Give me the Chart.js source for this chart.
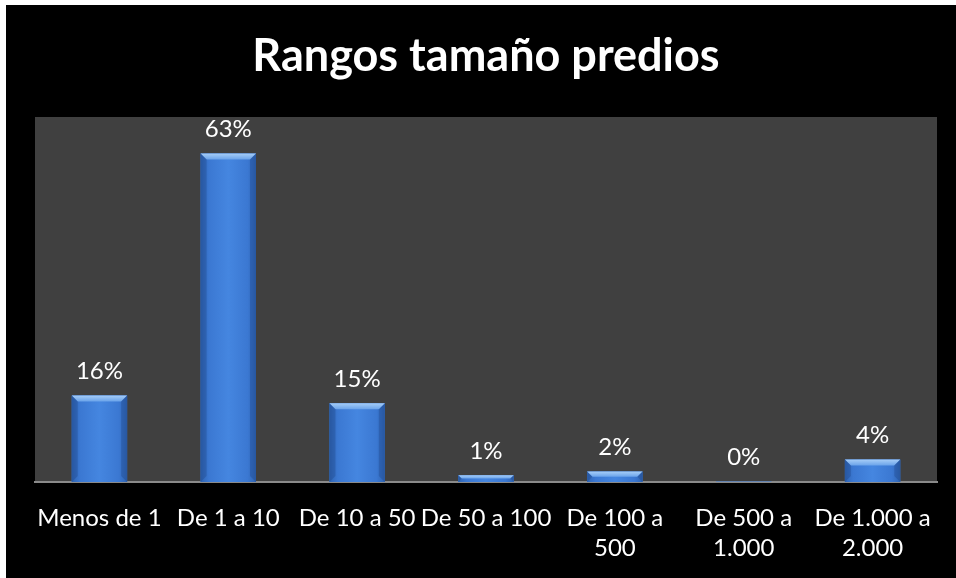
<!DOCTYPE html>
<html>
<head>
<meta charset="utf-8">
<script src="https://cdn.jsdelivr.net/npm/chart.js@4.4.1/dist/chart.umd.min.js"></script>
<style>
  html, body { margin: 0; padding: 0; background: #ffffff; }
  #wrap { position: absolute; left: 6px; top: 5px; width: 950px; height: 573px; background: #000000; }
  canvas { display: block; }
</style>
</head>
<body>
<div id="wrap"><canvas id="c" width="950" height="573"></canvas></div>
<script>
const titleText = "Rangos tamaño predios";
const categories = [
  "Menos de 1",
  "De 1 a 10",
  "De 10 a 50",
  "De 50 a 100",
  ["De 100 a", "500"],
  ["De 500 a", "1.000"],
  ["De 1.000 a", "2.000"]
];
const percentValues = [16.6, 63.0, 15.1, 1.3, 2.0, 0.1, 4.3];
const valueLabels = ["16%", "63%", "15%", "1%", "2%", "0%", "4%"];

const FONT = "Lato, 'Open Sans', sans-serif";

const plotBackground = {
  id: 'plotBackground',
  beforeDraw(chart) {
    const { ctx, chartArea: a } = chart;
    ctx.save();
    ctx.fillStyle = '#404040';
    ctx.fillRect(a.left, a.top, a.right - a.left, a.bottom - a.top);
    ctx.restore();
  }
};

const barBevel = {
  id: 'barBevel',
  afterDatasetsDraw(chart) {
    const { ctx } = chart;
    const meta = chart.getDatasetMeta(0);
    ctx.save();
    meta.data.forEach((bar) => {
      const p = bar.getProps(['x', 'y', 'base', 'width'], true);
      const h = p.base - p.y;
      if (!(h >= 1)) return;
      const l = p.x - p.width / 2, r = p.x + p.width / 2;
      const gb = ctx.createLinearGradient(l, 0, r, 0);
      gb.addColorStop(0, '#2f64b2');
      gb.addColorStop(0.15, '#3b78d2');
      gb.addColorStop(0.5, '#4586e0');
      gb.addColorStop(0.85, '#3b78d2');
      gb.addColorStop(1, '#2f64b2');
      ctx.fillStyle = gb;
      ctx.fillRect(l, p.y, r - l, h);
      const b = Math.min(6, h / 2);
      ctx.beginPath();
      ctx.moveTo(l, p.y);
      ctx.lineTo(r, p.y);
      ctx.lineTo(r - b, p.y + b);
      ctx.lineTo(l + b, p.y + b);
      ctx.closePath();
      const g = ctx.createLinearGradient(0, p.y, 0, p.y + b);
      g.addColorStop(0, '#a6cdf7');
      g.addColorStop(1, '#6aa3ea');
      ctx.fillStyle = g;
      ctx.fill();
      ctx.fillStyle = 'rgba(20,50,110,0.25)';
      ctx.beginPath();
      ctx.moveTo(l, p.y); ctx.lineTo(l + b, p.y + b); ctx.lineTo(l + b, p.base - b); ctx.lineTo(l, p.base); ctx.closePath();
      ctx.fill();
      ctx.beginPath();
      ctx.moveTo(r, p.y); ctx.lineTo(r - b, p.y + b); ctx.lineTo(r - b, p.base - b); ctx.lineTo(r, p.base); ctx.closePath();
      ctx.fill();
    });
    ctx.restore();
  }
};

const dataLabels = {
  id: 'dataLabels',
  afterDatasetsDraw(chart) {
    const { ctx } = chart;
    const meta = chart.getDatasetMeta(0);
    ctx.save();
    ctx.fillStyle = '#ffffff';
    ctx.font = "24px " + FONT;
    ctx.textAlign = 'center';
    ctx.textBaseline = 'middle';
    meta.data.forEach((bar, i) => {
      ctx.fillText(valueLabels[i], bar.x, bar.y - 24);
    });
    ctx.restore();
  }
};

new Chart(document.getElementById('c'), {
  type: 'bar',
  data: {
    labels: categories,
    datasets: [{
      data: percentValues,
      backgroundColor: '#3b7bd6',
      borderWidth: 0,
      categoryPercentage: 1.0,
      barPercentage: 0.43
    }]
  },
  options: {
    responsive: false,
    animation: false,
    layout: { padding: { left: 29, right: 19, top: 0, bottom: 14 } },
    plugins: {
      legend: { display: false },
      tooltip: { enabled: false },
      title: {
        display: true,
        text: titleText,
        color: '#ffffff',
        font: { family: FONT, size: 45, weight: 'bold', lineHeight: 1.2 },
        padding: { top: 24, bottom: 34 }
      }
    },
    scales: {
      x: {
        grid: { display: false, drawTicks: false },
        border: { display: true, color: '#8a8a8a', width: 2 },
        ticks: {
          color: '#ffffff',
          font: { family: FONT, size: 24, lineHeight: 1.27 },
          padding: 21,
          maxRotation: 0,
          autoSkip: false
        },
        afterFit(scale) { scale.height = 82; }
      },
      y: {
        display: false,
        min: 0,
        max: 70
      }
    }
  },
  plugins: [plotBackground, barBevel, dataLabels]
});
</script>
</body>
</html>
